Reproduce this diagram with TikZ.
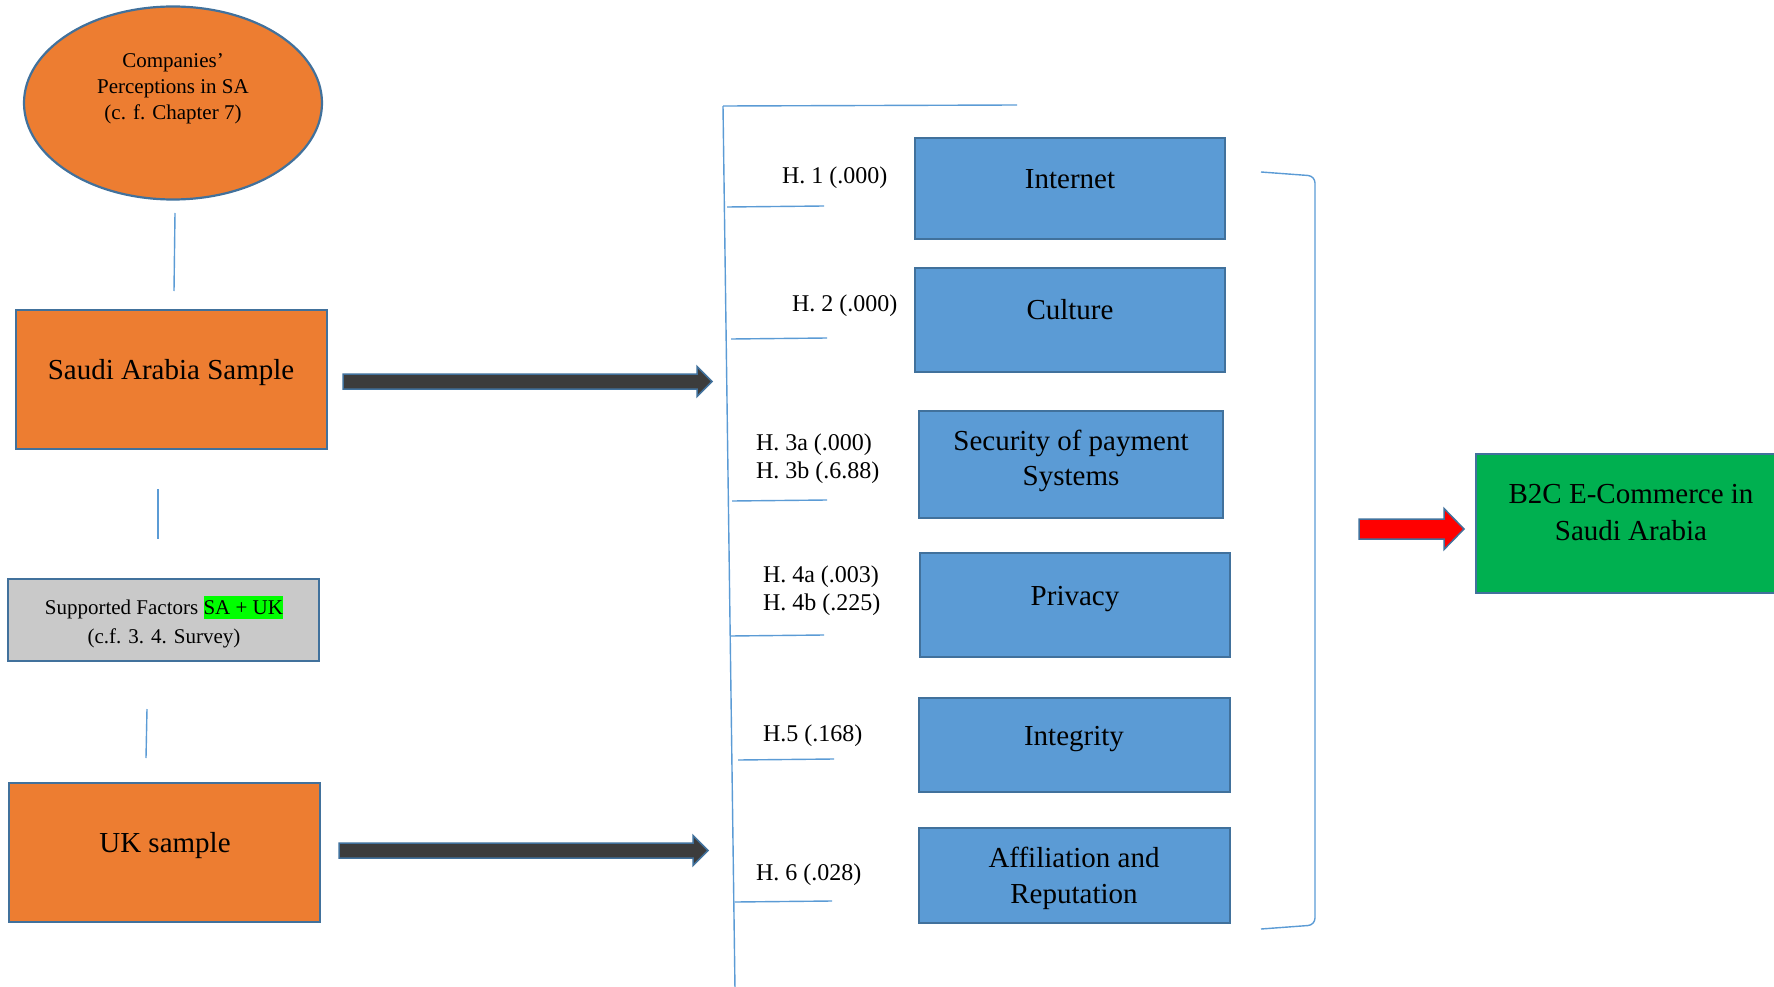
\documentclass[tikz,border=0pt]{standalone}
\usepackage{fontspec}
\setmainfont{Liberation Serif}
\usetikzlibrary{shapes.geometric}

\definecolor{orangefill}{HTML}{ED7D31}
\definecolor{edgeblue}{HTML}{41719C}
\definecolor{bluefill}{HTML}{5B9BD5}
\definecolor{lineblue}{HTML}{5B9BD5}
\definecolor{greenfill}{HTML}{00B050}
\definecolor{grayfill}{HTML}{C9C9C9}
\definecolor{darkfill}{HTML}{3C3C3C}
\definecolor{hlgreen}{HTML}{00FF00}
\definecolor{redfill}{HTML}{FF0000}

% block arrow: style, x start, x tip, y centre, half shaft, half head, head length
\newcommand{\fatarrow}[7]{%
  \path[#1] (#2,{#4-#5}) -- ({#3-#7},{#4-#5}) -- ({#3-#7},{#4-#6}) -- (#3,#4)
    -- ({#3-#7},{#4+#6}) -- ({#3-#7},{#4+#5}) -- (#2,{#4+#5}) -- cycle;}

\begin{document}
\begin{tikzpicture}[x=1pt,y=-1pt,
  every node/.style={inner sep=0pt, outer sep=0pt},
  orangebox/.style={rectangle, draw=edgeblue, line width=2.5pt, fill=orangefill},
  graybox/.style={rectangle, draw=edgeblue, line width=2.5pt, fill=grayfill},
  bluebox/.style={rectangle, draw=edgeblue, line width=2.5pt, fill=bluefill},
  greenbox/.style={rectangle, draw=edgeblue, line width=2.5pt, fill=greenfill},
  bigtext/.style={font=\fontsize{29}{35}\selectfont, align=center},
  smalltext/.style={font=\fontsize{21}{26}\selectfont, align=center},
  hyptext/.style={font=\fontsize{24}{28}\selectfont, align=left, anchor=west},
  thinblue/.style={draw=lineblue, line width=1.4pt},
  darkarrow/.style={fill=darkfill, draw=edgeblue, line width=1.5pt},
  redarrow/.style={fill=redfill, draw=edgeblue, line width=1.5pt}]
\useasboundingbox (0,0) rectangle (1774,987);

% ---- left column ----
\node[ellipse, draw=edgeblue, line width=2.2pt, fill=orangefill,
      minimum width=298pt, minimum height=193pt] (companies) at (173,103) {};
\node[smalltext] (companiesText) at (173,88.5)
  {Companies’\\Perceptions in SA\\(c. f. Chapter 7)};

\node[orangebox, minimum width=311pt, minimum height=139pt] (saudi) at (171.5,379.5) {};
\node[bigtext] (saudiText) at (171,373) {Saudi Arabia Sample};

\node[graybox, minimum width=311pt, minimum height=82pt] (factors) at (163.5,620) {};
\node[smalltext, font=\fontsize{21}{29}\selectfont] (factorsText) at (164,622)
  {Supported Factors {\setlength{\fboxsep}{0pt}\colorbox{hlgreen}{\rule[-0.2em]{0pt}{1.08em}SA + UK}}\\(c.f. 3. 4. Survey)};

\node[orangebox, minimum width=311pt, minimum height=139pt] (uk) at (164.5,852.5) {};
\node[bigtext] (ukText) at (165,846) {UK sample};

% short links between the left-hand items
\coordinate (c1a) at (175,213); \coordinate (c1b) at (174,291);
\coordinate (c2a) at (158,489); \coordinate (c2b) at (158,539);
\coordinate (c3a) at (147,709); \coordinate (c3b) at (146,758);
\draw[thinblue] (c1a) -- (c1b);
\draw[thinblue] (c2a) -- (c2b);
\draw[thinblue] (c3a) -- (c3b);

% samples feeding the factors
\fatarrow{darkarrow}{343}{712}{381.5}{7.5}{15}{15}
\fatarrow{darkarrow}{339}{708}{850.5}{7.5}{15}{15}

% ---- hypotheses bracket ----
\coordinate (spineTop) at (723,106);
\coordinate (spineEnd) at (735,990);
\coordinate (topEnd) at (1017,105);
\draw[thinblue] (spineTop) -- (spineEnd);
\draw[thinblue] (spineTop) -- (topEnd);

\coordinate (t1a) at (727,207); \coordinate (t1b) at (824,206);
\coordinate (t2a) at (731,339); \coordinate (t2b) at (827,338);
\coordinate (t3a) at (732,501); \coordinate (t3b) at (827,500);
\coordinate (t4a) at (730,636); \coordinate (t4b) at (824,635);
\coordinate (t5a) at (738,760); \coordinate (t5b) at (834,759);
\coordinate (t6a) at (735,902); \coordinate (t6b) at (832,901);
\foreach \i in {1,...,6} { \draw[thinblue] (t\i a) -- (t\i b); }

\node[hyptext] (h1) at (782,178) {H. 1 (.000)};
\node[hyptext] (h2) at (792,306) {H. 2 (.000)};
\node[hyptext] (h3) at (756,459) {H. 3a (.000)\\H. 3b (.6.88)};
\node[hyptext] (h4) at (763,591) {H. 4a (.003)\\H. 4b (.225)};
\node[hyptext] (h5) at (763,736) {H.5 (.168)};
\node[hyptext] (h6) at (756,875) {H. 6 (.028)};

% ---- factor boxes ----
\node[bluebox, minimum width=310pt, minimum height=101pt] (internet) at (1070,188.5) {};
\node[bigtext] (internetText) at (1070,179) {Internet};
\node[bluebox, minimum width=310pt, minimum height=104pt] (culture) at (1070,320) {};
\node[bigtext] (cultureText) at (1070,310) {Culture};
\node[bluebox, minimum width=304pt, minimum height=107pt] (security) at (1071,464.5) {};
\node[bigtext] (securityText) at (1071,461) {Security of payment\\Systems};
\node[bluebox, minimum width=310pt, minimum height=104pt] (privacy) at (1075,605) {};
\node[bigtext] (privacyText) at (1075,599) {Privacy};
\node[bluebox, minimum width=311pt, minimum height=94pt] (integrity) at (1074.5,745) {};
\node[bigtext] (integrityText) at (1074,739) {Integrity};
\node[bluebox, minimum width=311pt, minimum height=95pt] (affiliation) at (1074.5,875.5) {};
\node[bigtext, font=\fontsize{29}{36}\selectfont] (affiliationText) at (1074,878) {Affiliation and\\Reputation};

% closing bracket on the right
\coordinate (br1) at (1261,172);
\coordinate (br2) at (1315,176);
\coordinate (br3) at (1315,925);
\coordinate (br4) at (1261,929);
\draw[thinblue, rounded corners=7pt] (br1) -- (br2) -- (br3) -- (br4);

% ---- outcome ----
\fatarrow{redarrow}{1359}{1464}{529}{10}{20.5}{20}
\node[greenbox, minimum width=304pt, minimum height=139pt] (outcome) at (1628,523.5) {};
\node[bigtext, font=\fontsize{29}{37}\selectfont] (outcomeText) at (1631,513)
  {B2C E-Commerce in\\Saudi Arabia};
\end{tikzpicture}
\end{document}
